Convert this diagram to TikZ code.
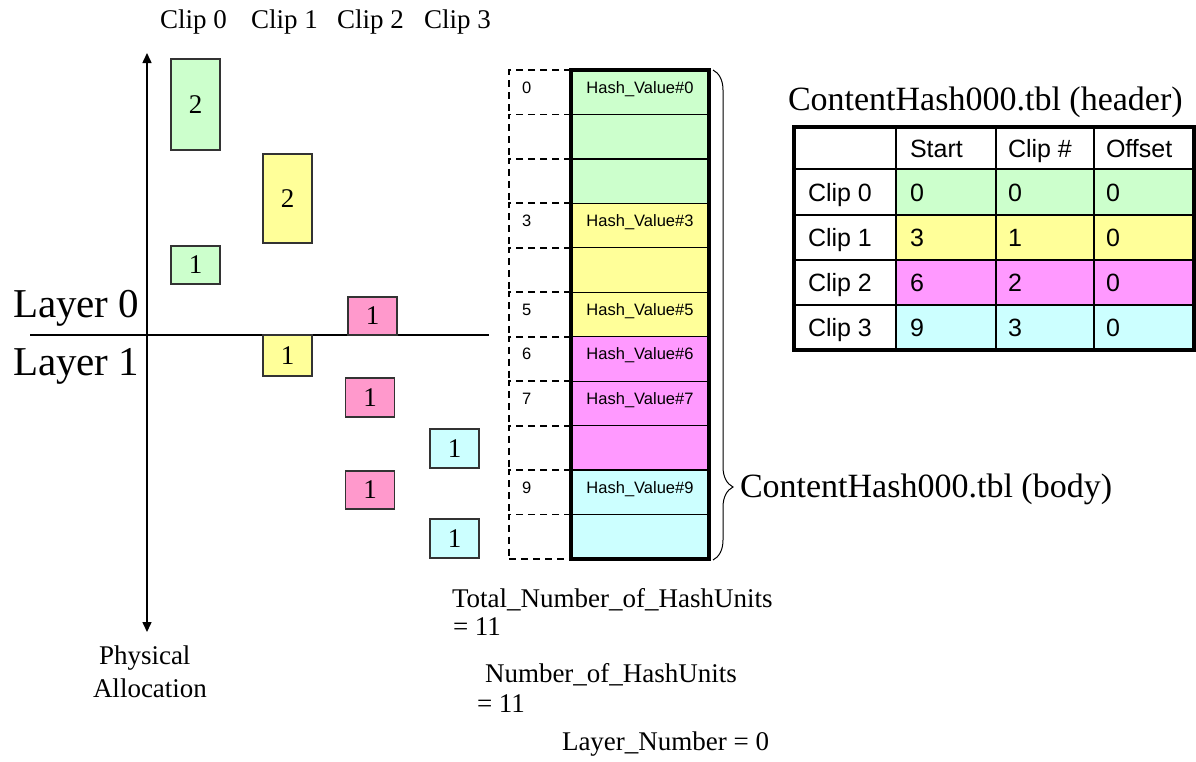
\documentclass[tikz,border=0pt]{standalone}
\usepackage{fontspec}
\setmainfont{Liberation Serif}
\newfontfamily\arialf{Liberation Sans}
\usetikzlibrary{arrows.meta,decorations.pathreplacing}
\definecolor{cgreen}{HTML}{CCFFCC}
\definecolor{cyellow}{HTML}{FFFF99}
\definecolor{cpink}{HTML}{FF99CC}
\definecolor{cmag}{HTML}{FF99FF}
\definecolor{ccyan}{HTML}{CCFFFF}
\definecolor{cedge}{HTML}{333333}
\tikzset{
  txt/.style={inner sep=0pt, outer sep=0pt, anchor=base west, font=\fontsize{27}{27}\selectfont},
  bigtxt/.style={inner sep=0pt, outer sep=0pt, anchor=base west, font=\fontsize{41}{41}\selectfont},
  ttltxt/.style={inner sep=0pt, outer sep=0pt, anchor=base west, font=\fontsize{34}{34}\selectfont},
  blk/.style={draw=cedge, line width=1.5pt, inner sep=0pt, outer sep=0pt, minimum width=49pt, font=\fontsize{27}{27}\selectfont},
  axisline/.style={line width=1.5pt, black},
  dcell/.style={inner sep=0pt, outer sep=0pt, minimum width=62pt, minimum height=44.45pt},
  dline/.style={line width=1.8pt, dash pattern=on 7pt off 5pt},
  hcell/.style={draw=black, line width=1.2pt, inner sep=0pt, outer sep=0pt, minimum width=138pt, minimum height=44.45pt},
  numlbl/.style={inner sep=0pt, outer sep=0pt, anchor=base west, font=\arialf\fontsize{16.5}{16.5}\selectfont},
  hashlbl/.style={inner sep=0pt, outer sep=0pt, anchor=base, font=\arialf\fontsize{16.5}{16.5}\selectfont},
  tcell/.style={draw=black, line width=1.5pt, inner sep=0pt, outer sep=0pt, anchor=north west},
  tlbl/.style={inner sep=0pt, outer sep=0pt, anchor=base west, font=\arialf\fontsize{25}{25}\selectfont},
}
\begin{document}
\begin{tikzpicture}[x=1pt,y=-1pt]
\useasboundingbox (0,0) rectangle (1196,761);

% clip headings
\node[txt] (hc0) at (160,28) {Clip 0};
\node[txt] (hc1) at (251,28) {Clip 1};
\node[txt] (hc2) at (337,28) {Clip 2};
\node[txt] (hc3) at (424,28) {Clip 3};

% axes
\coordinate (axtop) at (147,53);
\coordinate (axbot) at (147,632);
\coordinate (hl) at (30,335);
\coordinate (hr) at (489,335);
\draw[axisline, {Triangle[width=9pt,length=10pt]}-{Triangle[width=9pt,length=10pt]}] (axtop) -- (axbot);
\draw[axisline] (hl) -- (hr);

\node[bigtxt] (lay0) at (13,317) {Layer 0};
\node[bigtxt] (lay1) at (13,375) {Layer 1};

\node[txt] (phys) at (99,664) {Physical};
\node[txt] (alloc) at (93,697) {Allocation};

% allocation blocks
\node[blk, fill=cgreen, minimum height=91pt] (c0a) at (195.5,104.5) {2};
\node[blk, fill=cgreen, minimum height=38pt] (c0b) at (195.5,265) {1};
\node[blk, fill=cyellow, minimum height=89pt] (c1a) at (287.5,198.5) {2};
\node[blk, fill=cyellow, minimum height=41pt] (c1b) at (287.5,355.5) {1};
\node[blk, fill=cpink, minimum height=38pt] (c2a) at (372.5,316) {1};
\node[blk, fill=cpink, minimum height=39pt] (c2b) at (370,397.5) {1};
\node[blk, fill=cpink, minimum height=38pt] (c2c) at (370,490) {1};
\node[blk, fill=ccyan, minimum height=39pt] (c3a) at (454.5,448.5) {1};
\node[blk, fill=ccyan, minimum height=39pt] (c3b) at (454.5,538.5) {1};

% hash body column
\foreach \i in {0,...,10} {
  \pgfmathsetmacro\yy{70+\i*44.45}
  \node[dcell, anchor=north west] (d\i) at (509,\yy) {};
  \draw[dline] (d\i.north east) -- (d\i.north west) -- (d\i.south west);
}
\draw[dline] (d10.south west) -- (d10.south east);

\foreach \i/\c in {0/cgreen,1/cgreen,2/cgreen,3/cyellow,4/cyellow,5/cyellow,6/cmag,7/cmag,8/cmag,9/ccyan,10/ccyan} {
  \pgfmathsetmacro\yy{70+\i*44.45}
  \node[hcell, fill=\c, anchor=north west] (h\i) at (571,\yy) {};
}
\draw[line width=3.5pt] (h0.north west) rectangle (h10.south east);

\foreach \i in {0,3,5,6,7,9} {
  \pgfmathsetmacro\yy{70+\i*44.45+23}
  \node[numlbl] (n\i) at (522,\yy) {\i};
  \node[hashlbl] (v\i) at (640,\yy) {Hash\_Value\#\i};
}

% brace
\coordinate (bt) at (713,70);
\coordinate (bb) at (713,560);
\draw[line width=1pt, decorate, decoration={brace, amplitude=20pt, aspect=0.851}] (bt) -- (bb);
\node[ttltxt] (bodylbl) at (740,497) {ContentHash000.tbl (body)};

% header table
\node[ttltxt] (headlbl) at (788,110) {ContentHash000.tbl (header)};
\foreach \r/\y/\h/\f/\a/\b/\c/\d in {
  0/127/42/white//Start/Clip \#/Offset,
  1/169/46/cgreen/Clip 0/0/0/0,
  2/215/45/cyellow/Clip 1/3/1/0,
  3/260/45/cmag/Clip 2/6/2/0,
  4/305/45/ccyan/Clip 3/9/3/0} {
  \node[tcell, fill=white, minimum width=102pt, minimum height=\h pt] (t\r0) at (794,\y) {};
  \node[tcell, fill=\f, minimum width=100pt, minimum height=\h pt] (t\r1) at (896,\y) {};
  \node[tcell, fill=\f, minimum width=98pt, minimum height=\h pt] (t\r2) at (996,\y) {};
  \node[tcell, fill=\f, minimum width=100pt, minimum height=\h pt] (t\r3) at (1094,\y) {};
  \pgfmathsetmacro\yb{\y+\h/2+9}
  \node[tlbl] (l\r0) at (808,\yb) {\a};
  \node[tlbl] (l\r1) at (910,\yb) {\b};
  \node[tlbl] (l\r2) at (1008,\yb) {\c};
  \node[tlbl] (l\r3) at (1106,\yb) {\d};
}
\draw[line width=3.5pt] (t00.north west) rectangle (t43.south east);

% bottom notes
\node[txt] (tot) at (452,607) {Total\_Number\_of\_HashUnits};
\node[txt] (tot2) at (453,635) {= 11};
\node[txt] (num) at (485,682) {Number\_of\_HashUnits};
\node[txt] (num2) at (477,712) {= 11};
\node[txt] (lnum) at (562,750) {Layer\_Number = 0};
\end{tikzpicture}
\end{document}
